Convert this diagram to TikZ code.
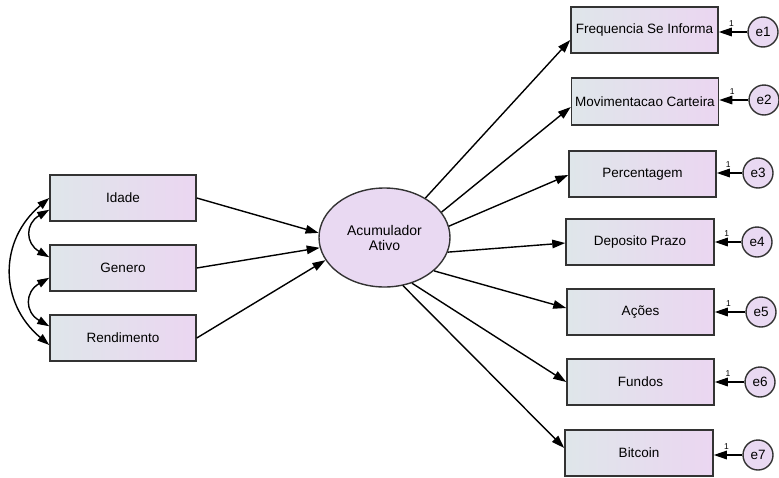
\documentclass[tikz,border=0pt]{standalone}
\usepackage{fontspec}
\setmainfont{Liberation Sans}
\usetikzlibrary{arrows.meta,shapes.geometric}
\definecolor{boxL}{HTML}{DFE6EA}
\definecolor{boxR}{HTML}{EBD6F1}
\definecolor{latfill}{HTML}{E9D9F2}
\definecolor{edgecol}{HTML}{333333}
\begin{document}
\begin{tikzpicture}[x=1pt,y=1pt,
  txt/.style={font=\fontsize{13.5}{15}\selectfont},
  obsbox/.style={draw=edgecol,line width=1.5pt,left color=boxL,right color=boxR,
    minimum width=147pt,minimum height=46pt,inner sep=0pt,txt},
  latent/.style={ellipse,draw=edgecol,line width=1.4pt,fill=latfill,
    minimum width=131pt,minimum height=99pt,inner sep=0pt,align=center,
    font=\fontsize{14}{15}\selectfont},
  errc/.style={circle,draw=edgecol,line width=1.4pt,fill=latfill,
    minimum size=30pt,inner sep=0pt,txt},
  path/.style={line width=1.4pt,-{Triangle[length=13pt,width=8.5pt]}},
  cov/.style={line width=1.4pt,{Triangle[length=12pt,width=8pt]}-{Triangle[length=12pt,width=8pt]}},
  one/.style={font=\fontsize{8.5}{9}\selectfont,inner sep=0pt}]
\useasboundingbox (0,0) rectangle (779,-477);

% exogenous observed
\node[obsbox,minimum width=146pt] (id) at (123,-198) {Idade};
\node[obsbox,minimum width=146pt] (ge) at (123,-268) {Genero};
\node[obsbox,minimum width=146pt] (re) at (123,-338) {Rendimento};

% latent
\node[latent] (A) at (384.5,-237.5) {Acumulador\\Ativo};

% indicators
\node[obsbox] (f1) at (644.5,-30) {Frequencia Se Informa};
\node[obsbox,minimum height=47pt] (f2) at (645,-101.5) {Movimentacao Carteira};
\node[obsbox] (f3) at (642.5,-174) {Percentagem};
\node[obsbox,minimum width=148pt] (f4) at (640,-242) {Deposito Prazo};
\node[obsbox] (f5) at (640.5,-312) {Ações};
\node[obsbox] (f6) at (640.5,-382) {Fundos};
\node[obsbox,minimum width=148pt] (f7) at (639,-453) {Bitcoin};

% errors
\node[errc] (e1) at (763,-32) {e1};
\node[errc] (e2) at (764,-100) {e2};
\node[errc] (e3) at (758,-173) {e3};
\node[errc] (e4) at (757,-242) {e4};
\node[errc] (e5) at (761,-312) {e5};
\node[errc] (e6) at (760,-382) {e6};
\node[errc] (e7) at (758,-455) {e7};

% paths into latent
\draw[path] (id.east) -- (A.176);
\draw[path] (ge.east) -- (A.189);
\draw[path] (re.east) -- (A.201.4);

% loadings
\draw[path] (A.44) -- ([yshift=-10pt]f1.west);
\draw[path] (A.24.4) -- ([yshift=-5.5pt]f2.west);
\draw[path] (A.10.8) -- ([yshift=-1pt]f3.west);
\draw[path] (A.-13.9) -- ([yshift=-1pt]f4.west);
\draw[path] (A.-34.6) -- ([yshift=4pt]f5.west);
\draw[path] (A.-59.4) -- (f6.west);
\draw[path] (A.-69.5) -- ([yshift=5pt]f7.west);

% error paths
\foreach \e/\f in {e1/f1,e2/f2,e3/f3,e4/f4,e5/f5,e6/f6,e7/f7}{
  \draw[path] (\e) -- (\e -| \f.east) node[one,pos=0.55,above=5pt] {1};
}

% covariances
\draw[cov] ([yshift=12pt]id.south west) to[out=210,in=150,looseness=1.5] ([yshift=-13pt]ge.north west);
\draw[cov] ([yshift=14pt]ge.south west) to[out=210,in=150,looseness=1.5] ([yshift=-12pt]re.north west);
\draw[cov] (id.west) to[out=220,in=140,looseness=1.15] ([yshift=-7pt]re.west);
\end{tikzpicture}
\end{document}
